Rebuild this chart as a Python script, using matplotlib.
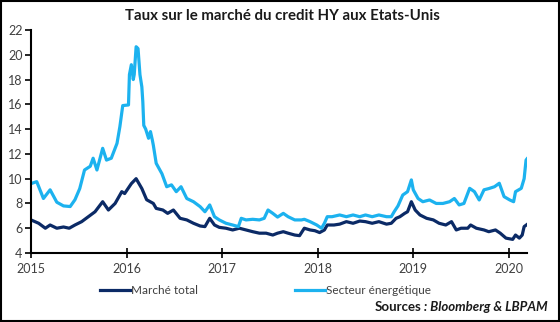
import matplotlib.pyplot as plt
from matplotlib.patches import Rectangle

# taux HY (en %), dates en années décimales
total_t = [2015.00, 2015.08, 2015.15, 2015.20, 2015.27, 2015.34, 2015.40, 2015.46, 2015.53,
           2015.60, 2015.67, 2015.75, 2015.81, 2015.88, 2015.95, 2015.98, 2016.05, 2016.10,
           2016.16, 2016.21, 2016.28, 2016.31, 2016.38, 2016.43, 2016.49, 2016.56, 2016.63,
           2016.70, 2016.77, 2016.82, 2016.87, 2016.92, 2016.97, 2017.04, 2017.11, 2017.18,
           2017.25, 2017.32, 2017.39, 2017.46, 2017.53, 2017.58, 2017.64, 2017.69, 2017.76,
           2017.81, 2017.86, 2017.92, 2017.97, 2018.02, 2018.07, 2018.10, 2018.17, 2018.23,
           2018.30, 2018.37, 2018.44, 2018.50, 2018.57, 2018.64, 2018.72, 2018.77, 2018.82,
           2018.86, 2018.91, 2018.94, 2018.98, 2019.02, 2019.07, 2019.14, 2019.21, 2019.27,
           2019.34, 2019.40, 2019.45, 2019.50, 2019.57, 2019.60, 2019.66, 2019.74, 2019.79,
           2019.86, 2019.91, 2019.97, 2020.04, 2020.07, 2020.11, 2020.14, 2020.16, 2020.19]
total_y = [6.67, 6.40, 6.00, 6.26, 6.00, 6.10, 6.00, 6.26, 6.53,
           6.93, 7.33, 8.14, 7.47, 8.00, 8.95, 8.80, 9.60, 10.00,
           9.20, 8.30, 8.00, 7.60, 7.47, 7.20, 7.47, 6.80, 6.67,
           6.40, 6.18, 6.13, 6.80, 6.26, 6.07, 6.00, 5.86, 6.00,
           5.86, 5.72, 5.60, 5.60, 5.45, 5.60, 5.72, 5.60, 5.45,
           5.40, 6.00, 5.86, 5.80, 5.65, 5.86, 6.26, 6.26, 6.33,
           6.53, 6.40, 6.58, 6.53, 6.40, 6.53, 6.33, 6.40, 6.80,
           6.93, 7.20, 7.33, 8.14, 7.47, 7.07, 6.80, 6.67, 6.40,
           6.26, 6.53, 5.86, 6.00, 6.00, 6.26, 6.00, 5.86, 5.72,
           5.86, 5.60, 5.20, 5.10, 5.45, 5.20, 5.45, 6.13, 6.30]

energy_t = [2015.00, 2015.06, 2015.13, 2015.20, 2015.27, 2015.34, 2015.41, 2015.46, 2015.51,
            2015.56, 2015.62, 2015.65, 2015.69, 2015.75, 2015.79, 2015.84, 2015.90, 2015.93,
            2015.96, 2016.02, 2016.03, 2016.05, 2016.07, 2016.08, 2016.10, 2016.12, 2016.14,
            2016.16, 2016.17, 2016.18, 2016.20, 2016.23, 2016.25, 2016.27, 2016.28, 2016.31,
            2016.37, 2016.42, 2016.47, 2016.52, 2016.57, 2016.63, 2016.70, 2016.77, 2016.82,
            2016.87, 2016.92, 2016.97, 2017.04, 2017.11, 2017.17, 2017.20, 2017.25, 2017.32,
            2017.39, 2017.44, 2017.48, 2017.53, 2017.58, 2017.64, 2017.69, 2017.76, 2017.83,
            2017.86, 2017.92, 2017.99, 2018.04, 2018.07, 2018.10, 2018.15, 2018.23, 2018.30,
            2018.37, 2018.44, 2018.50, 2018.57, 2018.64, 2018.72, 2018.77, 2018.80, 2018.84,
            2018.89, 2018.94, 2018.98, 2019.00, 2019.05, 2019.10, 2019.17, 2019.24, 2019.31,
            2019.38, 2019.43, 2019.48, 2019.53, 2019.59, 2019.64, 2019.69, 2019.74, 2019.79,
            2019.85, 2019.90, 2019.95, 2020.01, 2020.05, 2020.07, 2020.13, 2020.16, 2020.18,
            2020.19]
energy_y = [9.60, 9.76, 8.40, 9.10, 8.10, 7.80, 7.75, 8.30, 9.20,
            10.70, 11.00, 11.65, 10.70, 12.45, 11.50, 11.65, 12.85, 14.20,
            15.90, 15.95, 18.40, 19.20, 18.00, 18.40, 20.65, 20.50, 18.40,
            17.40, 16.20, 14.30, 14.00, 13.26, 13.80, 13.10, 12.70, 11.24,
            10.40, 9.35, 9.50, 8.95, 9.35, 8.40, 8.14, 7.74, 7.33,
            7.88, 6.93, 6.67, 6.40, 6.26, 6.13, 6.80, 6.67, 6.72,
            6.67, 6.80, 7.47, 7.20, 6.90, 7.20, 6.93, 6.67, 6.67,
            6.72, 6.53, 6.26, 6.00, 6.40, 6.93, 6.93, 7.07, 6.93,
            7.07, 6.93, 7.07, 6.93, 7.07, 6.93, 6.93, 7.33, 7.80,
            8.68, 8.95, 9.90, 9.10, 8.40, 8.14, 8.28, 8.00, 8.00,
            8.14, 8.40, 7.88, 8.00, 9.22, 8.95, 8.28, 9.10, 9.20,
            9.35, 9.63, 8.55, 8.28, 8.14, 8.95, 9.22, 10.00, 11.50,
            11.60]

years = [2015, 2016, 2017, 2018, 2019, 2020]

NAVY = '#0b2a66'
SKY = '#1cb2ef'
GREY = '#404040'

plt.rcParams['font.family'] = ['Lato', 'DejaVu Sans']

fig = plt.figure(figsize=(5.6, 3.22), dpi=100)
ax = fig.add_axes([31 / 560, 1 - 253 / 322, 496 / 560, 223 / 322])

ax.plot(total_t, total_y, color=NAVY, lw=2.3, label='Marché total')
ax.plot(energy_t, energy_y, color=SKY, lw=2.3, label='Secteur énergétique')

ax.set_xlim(2015, 2020.19)
ax.set_ylim(4, 22)
ax.set_yticks(range(4, 23, 2))
ax.set_xticks(years)
ax.set_xticklabels([str(y) for y in years])

for side in ('top', 'right'):
    ax.spines[side].set_visible(False)
for side in ('left', 'bottom'):
    ax.spines[side].set_linewidth(1.5)
ax.tick_params(axis='y', direction='out', length=4, width=1.2, labelsize=9,
               labelcolor=GREY, pad=2)
ax.tick_params(axis='x', direction='inout', length=7, width=1.2, labelsize=9,
               labelcolor=GREY, pad=4)

fig.text(282 / 560, 1 - 16 / 322, 'Taux sur le marché du credit HY aux Etats-Unis',
         ha='center', va='center', fontsize=10.8, fontweight='bold', color='#1a1a1a')

fig.legend(loc='center left', bbox_to_anchor=(100 / 560, 1 - 291 / 322), ncol=2,
           frameon=False, fontsize=8.5, labelcolor=GREY, handlelength=2.5,
           handletextpad=0.15, columnspacing=8.2, borderaxespad=0, borderpad=0)

src = fig.text(548 / 560, 1 - 307 / 322, ' : Bloomberg & LBPAM', ha='right', va='center',
               fontsize=9.5, fontweight='bold', style='italic', color='#1a1a1a')
ax.annotate('Sources', xy=(0, 0.5), xycoords=src, ha='right', va='center',
            fontsize=9.5, fontweight='bold', color='#1a1a1a', annotation_clip=False)

# cadre autour de la figure
fig.patches.append(Rectangle((0.002, 0.003), 0.996, 0.994, transform=fig.transFigure,
                             fill=False, edgecolor='black', lw=1.5))

fig.savefig('out.png', dpi=100)
